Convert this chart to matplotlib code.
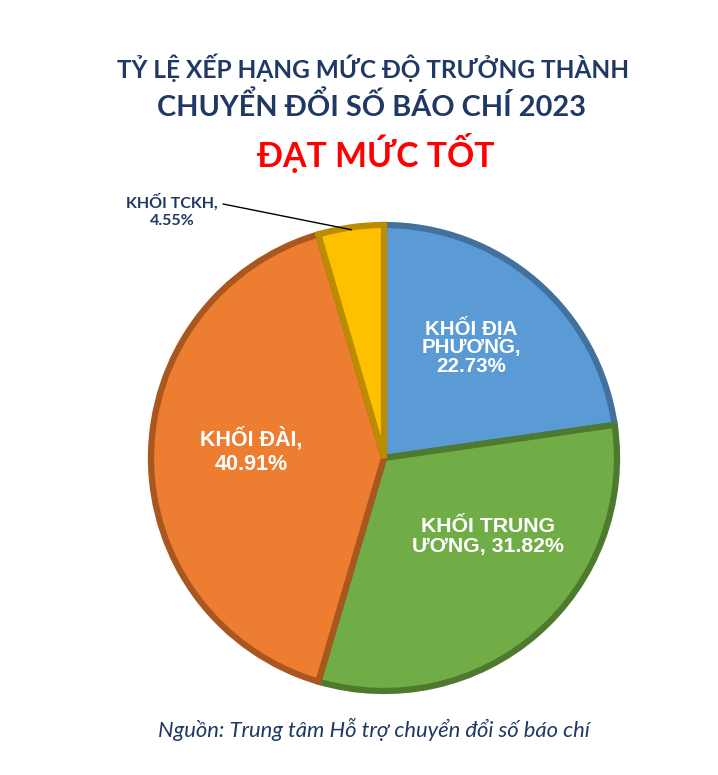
import numpy as np
import matplotlib.pyplot as plt

# data
labels = ['KHỐI ĐỊA\nPHƯƠNG,\n22.73%', 'KHỐI TRUNG\nƯƠNG, 31.82%', 'KHỐI ĐÀI,\n40.91%', 'KHỐI TCKH,\n4.55%']
shares = [22.73, 31.82, 40.91, 4.55]
colors = ['#5B9BD5', '#70AD47', '#ED7D31', '#FFC000']
edges = ['#41719C', '#4E7A2F', '#A9561F', '#BC8C00']

W, H = 718, 775
fig = plt.figure(figsize=(W / 100, H / 100), dpi=100)
fig.patch.set_facecolor('white')

# pie centre and radius in pixels
cx, cy, r = 384, 458, 233
ax = fig.add_axes([(cx - r) / W, (H - cy - r) / H, 2 * r / W, 2 * r / H])

wedges, _ = ax.pie(shares, colors=colors, startangle=90, counterclock=False, radius=1.0,
                   wedgeprops=dict(linewidth=4.5, joinstyle='miter'))
for w, ec in zip(wedges, edges):
    w.set_edgecolor(ec)
ax.set_xlim(-1, 1)
ax.set_ylim(-1, 1)
ax.set_aspect('equal')
ax.axis('off')

# label placement (radius, angle in degrees, font size, line spacing) for the inner labels
inner_pos = [(0.61, 52, 14.8, 1.0), (0.56, -37, 15.3, 1.05), (0.57, 177, 15.5, 1.25)]
for lab, (rr, ang, fs, ls) in zip(labels[:3], inner_pos):
    a = np.deg2rad(ang)
    ax.text(rr * np.cos(a), rr * np.sin(a), lab, ha='center', va='center',
            color='white', fontsize=fs, fontweight='bold',
            family=['Liberation Sans', 'DejaVu Sans'], linespacing=ls)

# outside label for the small slice, with leader line
w = wedges[3]
mid = np.deg2rad((w.theta1 + w.theta2) / 2)
x0, y0 = 0.99 * np.cos(mid), 0.99 * np.sin(mid)
ax.plot([x0, -0.69], [y0, 1.09], color='black', lw=1.0, clip_on=False)
ax.text(-0.91, 1.06, labels[3], ha='center', va='center', color='#1F3864',
        fontsize=11.5, fontweight='bold', family='Lato', linespacing=1.25)

# titles
navy = '#1F3864'
fig.text(373 / W, 1 - 68 / H, 'TỶ LỆ XẾP HẠNG MỨC ĐỘ TRƯỞNG THÀNH', ha='center', va='center',
         color=navy, fontsize=17.6, fontweight='bold', family='Lato')
fig.text(372 / W, 1 - 106 / H, 'CHUYỂN ĐỔI SỐ BÁO CHÍ 2023', ha='center', va='center',
         color=navy, fontsize=20.8, fontweight='bold', family='Lato')
fig.text(376 / W, 1 - 153 / H, 'ĐẠT MỨC TỐT', ha='center', va='center',
         color='#FF0000', fontsize=24.3, fontweight='bold', family='Lato')

fig.text(374 / W, 1 - 729 / H, 'Nguồn: Trung tâm Hỗ trợ chuyển đổi số báo chí', ha='center', va='center',
         color=navy, fontsize=15.8, style='italic', family='Lato')

fig.savefig('out.png', dpi=100, facecolor='white')
